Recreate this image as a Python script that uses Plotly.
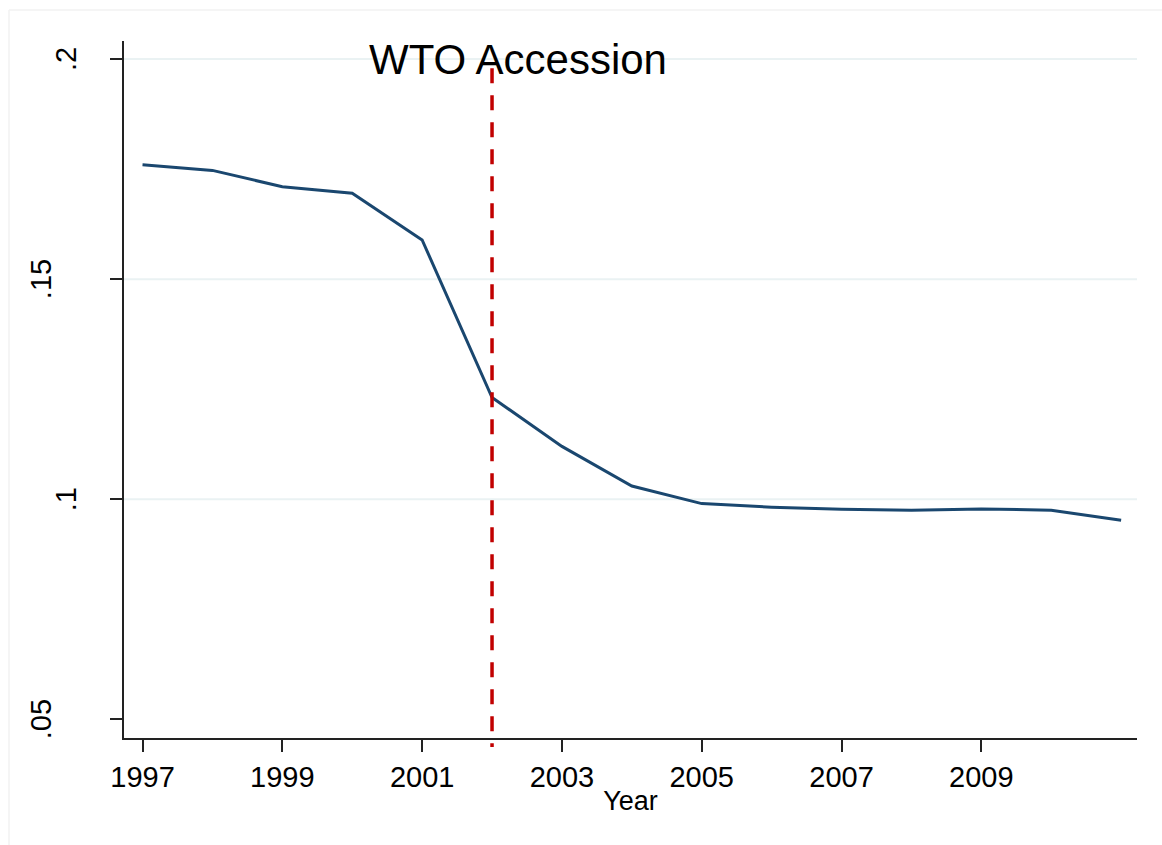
import plotly.graph_objects as go

# ---- data ----
years = [1997, 1998, 1999, 2000, 2001, 2002, 2003, 2004, 2005, 2006, 2007, 2008, 2009, 2010, 2011]
values = [0.1760, 0.1747, 0.1710, 0.1695, 0.1589, 0.1231, 0.1120, 0.1030, 0.0990, 0.0982,
          0.0977, 0.0975, 0.0978, 0.0975, 0.0952]
x_tick_vals = [1997, 1999, 2001, 2003, 2005, 2007, 2009]
x_tick_text = ["1997", "1999", "2001", "2003", "2005", "2007", "2009"]
y_tick_vals = [0.05, 0.10, 0.15, 0.20]
y_tick_text = [".05", ".1", ".15", ".2"]
grid_vals = [0.10, 0.15, 0.20]
event_year = 2002
event_label = "WTO Accession"

FONT = "Liberation Sans, Arial, sans-serif"
W, H = 1162, 845
ML, MR, MT, MB = 124, 25, 41, 107
PW = W - ML - MR
PH = H - MT - MB
Y_RANGE = [0.04575, 0.2041]

fig = go.Figure()
fig.add_trace(go.Scatter(x=years, y=values, mode="lines",
                         line=dict(color="#1a476f", width=3),
                         showlegend=False, hoverinfo="skip"))

shapes = []
for g in grid_vals:
    shapes.append(dict(type="line", xref="paper", yref="y", x0=0, x1=1, y0=g, y1=g,
                       line=dict(color="#eaf2f3", width=2), layer="below"))
# event line (extends slightly below the x axis, as in the original)
ev_top = (0.1979 - Y_RANGE[0]) / (Y_RANGE[1] - Y_RANGE[0])
shapes.append(dict(type="line", xref="x", yref="paper", x0=event_year, x1=event_year,
                   y0=ev_top, y1=-9 / PH,
                   line=dict(color="#c10000", width=3.5, dash="15px,12px")))
# faint outer frame
shapes.append(dict(type="line", xref="paper", yref="paper",
                   x0=(9 - ML) / PW, x1=(W - ML) / PW + 0.05,
                   y0=1 + (MT - 10) / PH, y1=1 + (MT - 10) / PH,
                   line=dict(color="#f2f2f2", width=1.5)))
shapes.append(dict(type="line", xref="paper", yref="paper",
                   x0=(9 - ML) / PW, x1=(9 - ML) / PW,
                   y0=1 + (MT - 10) / PH, y1=-0.2,
                   line=dict(color="#f2f2f2", width=1.5)))

annotations = []
label_x_px = {".05": 41, ".1": 66, ".15": 41, ".2": 66}
for v, t in zip(y_tick_vals, y_tick_text):
    annotations.append(dict(xref="paper", yref="y", x=(label_x_px[t] - ML) / PW, y=v,
                            text=t, showarrow=False, textangle=-90,
                            xanchor="center", yanchor="middle",
                            font=dict(family=FONT, size=29, color="black")))
annotations.append(dict(xref="x", yref="y", x=2002.37, y=0.2, text=event_label,
                        showarrow=False, xanchor="center", yanchor="middle",
                        font=dict(family=FONT, size=42, color="black")))

fig.update_layout(
    width=W, height=H,
    margin=dict(l=ML, r=MR, t=MT, b=MB),
    paper_bgcolor="white", plot_bgcolor="white",
    font=dict(family=FONT, color="black"),
    shapes=shapes, annotations=annotations,
    xaxis=dict(range=[1996.735, 2011.227], tickmode="array", tickvals=x_tick_vals,
               ticktext=x_tick_text, ticks="outside", ticklen=12, tickwidth=1.5,
               tickcolor="#222", showline=True, linecolor="#222", linewidth=1.5,
               showgrid=False, zeroline=False, tickfont=dict(family=FONT, size=29),
               title=dict(text="Year", font=dict(family=FONT, size=27), standoff=0)),
    yaxis=dict(range=Y_RANGE, tickmode="array", tickvals=y_tick_vals,
               ticks="outside", ticklen=12, tickwidth=1.5, tickcolor="#222",
               showticklabels=False, showline=True, linecolor="#222", linewidth=1.5,
               showgrid=False, zeroline=False),
)

fig.write_html("out.html")
